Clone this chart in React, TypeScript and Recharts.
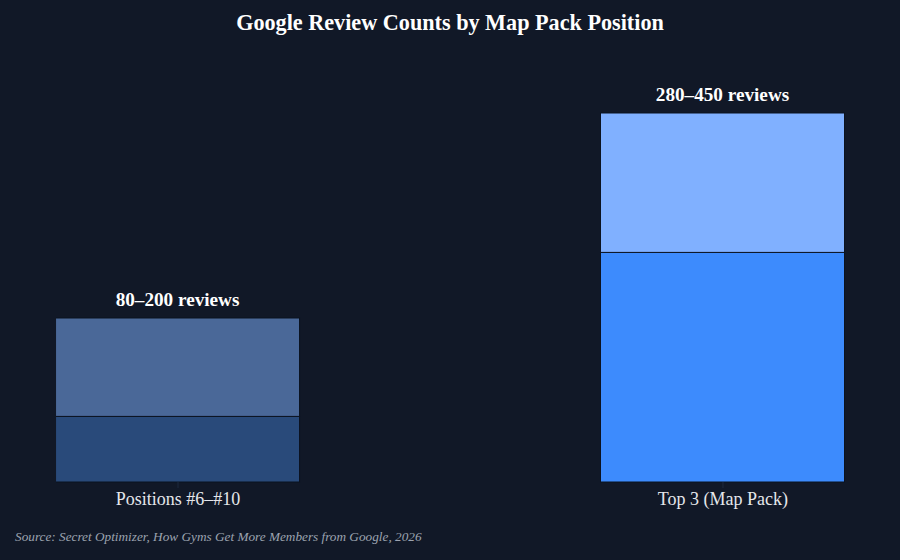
import React from "react";
import { BarChart, Bar, XAxis, YAxis, LabelList } from "recharts";

const categories = ["Positions #6–#10", "Top 3 (Map Pack)"];
const lowValues = [80, 280];
const highValues = [200, 450];
const barLabels = ["80–200 reviews", "280–450 reviews"];
const baseColors = ["#294a7a", "#3d8bfd"];
const rangeColors = ["#4a6898", "#80b0ff"];

const data = categories.map((c, i) => ({
  x: i,
  name: c,
  base: lowValues[i],
  range: highValues[i] - lowValues[i],
  label: barLabels[i],
}));

const BG = "#111827";
const FONT = '"Liberation Serif", "Times New Roman", serif';

export default function App() {
  return (
    <div
      style={{
        position: "fixed",
        top: 0,
        left: 0,
        width: 900,
        height: 560,
        background: BG,
        fontFamily: FONT,
      }}
    >
      <div
        style={{
          position: "absolute",
          top: 10,
          left: 0,
          width: 900,
          textAlign: "center",
          color: "#ffffff",
          fontWeight: "bold",
          fontSize: 22.2,
          lineHeight: "26px",
        }}
      >
        Google Review Counts by Map Pack Position
      </div>
      <BarChart
        width={900}
        height={560}
        data={data}
        margin={{ top: 72, right: 55, bottom: 48, left: 56 }}
      >
        <XAxis
          dataKey="x"
          type="number"
          domain={[-0.2239, 1.2239]}
          ticks={[0, 1]}
          tickFormatter={(v: number) => categories[v] ?? ""}
          axisLine={false}
          tickLine={{ stroke: "#1e2a3e" }}
          tickMargin={4}
          tick={{ fill: "#e5e7eb", fontSize: 18, fontFamily: FONT }}
          height={30}
          interval={0}
          allowDataOverflow
        />
        <YAxis hide domain={[0, 500]} type="number" />
        <Bar
          dataKey="base"
          stackId="a"
          barSize={244}
          isAnimationActive={false}
          shape={(props: any) => (
            <rect
              x={props.x}
              y={props.y}
              width={props.width}
              height={props.height}
              fill={baseColors[props.index]}
              stroke="#0b1220"
              strokeWidth={1}
            />
          )}
        />
        <Bar
          dataKey="range"
          stackId="a"
          barSize={244}
          isAnimationActive={false}
          shape={(props: any) => (
            <rect
              x={props.x}
              y={props.y}
              width={props.width}
              height={props.height}
              fill={rangeColors[props.index]}
              stroke="#0b1220"
              strokeWidth={1}
            />
          )}
        >
          <LabelList
            dataKey="label"
            position="top"
            offset={12}
            fill="#ffffff"
            fontSize={19.2}
            fontWeight="bold"
            fontFamily={FONT}
          />
        </Bar>
      </BarChart>
      <div
        style={{
          position: "absolute",
          top: 529,
          left: 15,
          color: "#9ca3af",
          fontStyle: "italic",
          fontSize: 13.25,
          lineHeight: "16px",
          whiteSpace: "nowrap",
        }}
      >
        Source: Secret Optimizer, How Gyms Get More Members from Google, 2026
      </div>
    </div>
  );
}
